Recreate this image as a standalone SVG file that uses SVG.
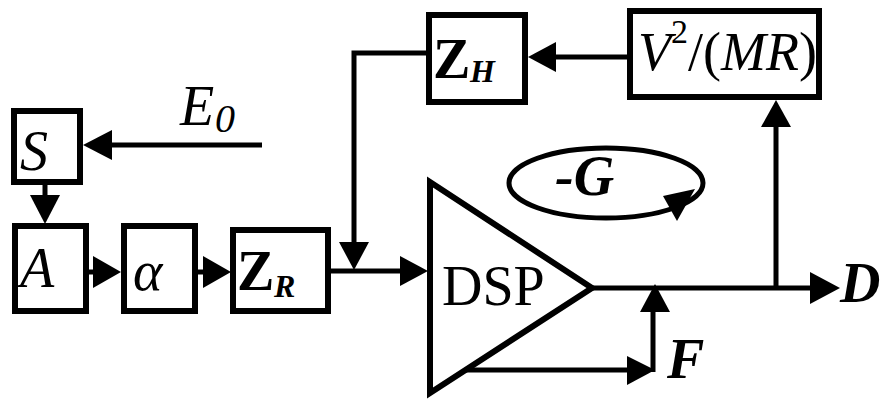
<svg xmlns="http://www.w3.org/2000/svg" width="885" height="399" viewBox="0 0 885 399">
<style>
.box{fill:#fff;stroke:#000;stroke-width:6}
.ln{fill:none;stroke:#000;stroke-width:5}
.ah{fill:#000;stroke:none}
.t{font-family:'Liberation Serif','Times New Roman',serif;font-size:56px;fill:#000}
.i{font-style:italic}
.b{font-weight:bold}
.sub{font-size:32px}
</style>
<rect width="885" height="399" fill="#fff"/>
<g id="connectors">
<path class="ln" d="M262,145 H110"/>
<polygon class="ah" points="83,145 112,130 112,160"/>
<path class="ln" d="M45,185 V197"/>
<polygon class="ah" points="45,224 30,195 60,195"/>
<path class="ln" d="M89,272 H95"/>
<polygon class="ah" points="121,272 93,256 93,288"/>
<path class="ln" d="M197,272 H205"/>
<polygon class="ah" points="231,272 203,256 203,288"/>
<path class="ln" d="M331,271 H402"/>
<polygon class="ah" points="428,271 400,256 400,286"/>
<path class="ln" d="M427,53 H354 V244"/>
<polygon class="ah" points="354,270 339,242 369,242"/>
<path class="ln" d="M627,57 H554"/>
<polygon class="ah" points="528,57 556,42 556,72"/>
<path class="ln" d="M592,288 H812"/>
<polygon class="ah" points="840,288 810,272 810,304"/>
<path class="ln" d="M776,288 V125"/>
<polygon class="ah" points="776,100 761,127 791,127"/>
<path class="ln" d="M464,370 H629"/>
<polygon class="ah" points="655,370 627,356 627,385"/>
<path class="ln" d="M653,372 V310"/>
<polygon class="ah" points="655,284 640,312 670,312"/>
</g>
<g id="node-S">
<rect class="box" x="14" y="111" width="66" height="71"/>
<text class="t i" x="20" y="170">S</text>
</g>
<g id="node-E0">
<text class="t i" x="180" y="125">E</text>
<text class="t i" x="215" y="132" style="font-size:40px">0</text>
</g>
<g id="node-A">
<rect class="box" x="15" y="226" width="71" height="85"/>
<text class="t i" x="20" y="287">A</text>
</g>
<g id="node-alpha">
<rect class="box" x="124" y="226" width="71" height="85"/>
<text class="t i" x="133" y="290">α</text>
</g>
<g id="node-ZR">
<rect class="box" x="233" y="230" width="95" height="81"/>
<text class="t b" x="237" y="290">Z</text>
<text class="t b i sub" x="274" y="297">R</text>
</g>
<g id="node-ZH">
<rect class="box" x="429" y="15" width="96" height="87"/>
<text class="t b" x="433" y="78">Z</text>
<text class="t b i sub" x="470" y="82">H</text>
</g>
<g id="node-V">
<rect class="box" x="630" y="11" width="189" height="86"/>
<text class="t i" x="638" y="70" style="font-size:54px">V<tspan dy="-27" style="font-size:34px;font-style:normal">2</tspan><tspan dy="27" style="font-style:normal">/(</tspan>MR<tspan style="font-style:normal">)</tspan></text>
</g>
<g id="node-DSP">
<polygon points="430,182 430,393 592,288" fill="#fff" stroke="#000" stroke-width="6" stroke-linejoin="miter"/>
<text class="t" x="442" y="305">DSP</text>
</g>
<g id="node-G">
<ellipse cx="606" cy="183" rx="97" ry="35" fill="none" stroke="#000" stroke-width="5"/>
<polygon class="ah" points="695,189 663,196 677,221"/>
<text class="t b i" x="555" y="195">-G</text>
</g>
<g id="node-D">
<text class="t b i" x="840" y="302">D</text>
</g>
<g id="node-F">
<text class="t b i" x="667" y="378">F</text>
</g>
</svg>
